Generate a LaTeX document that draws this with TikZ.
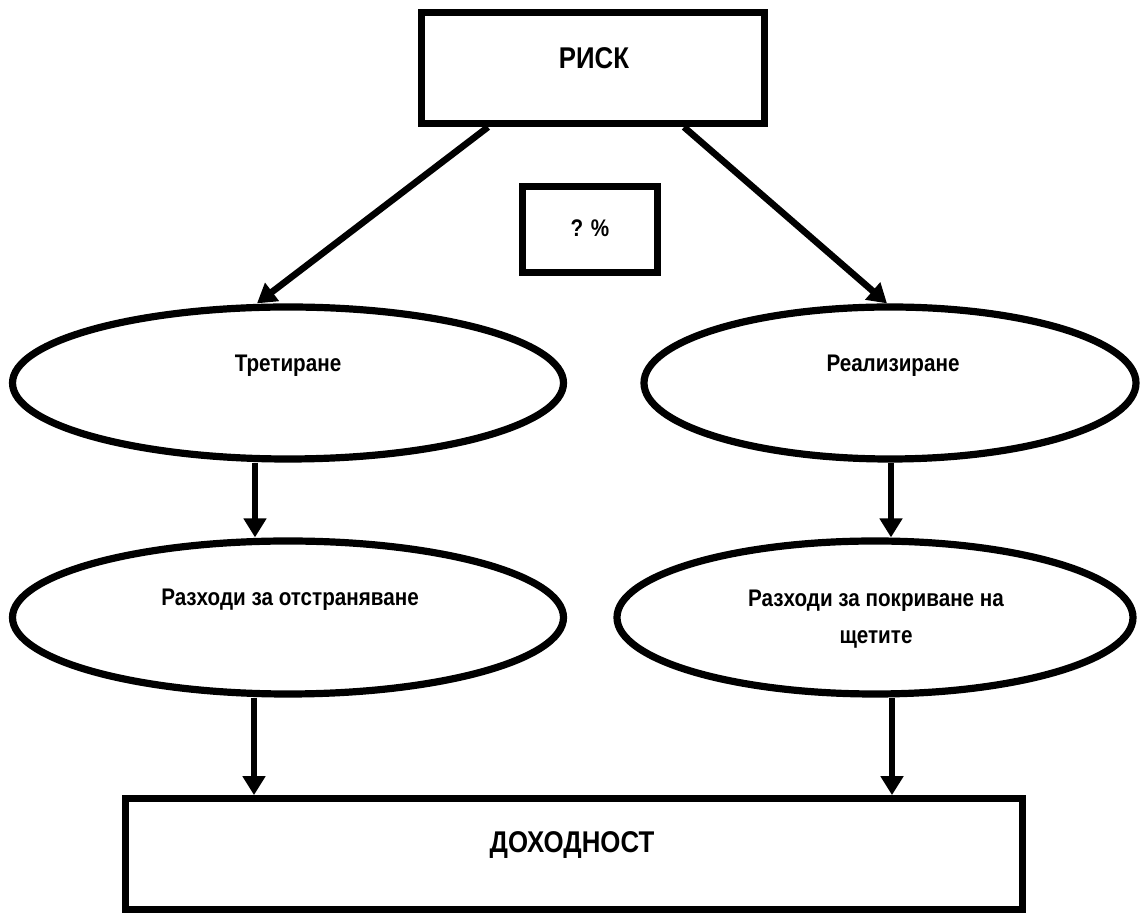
\documentclass[tikz,border=0pt]{standalone}
\usepackage{fontspec}
\newfontfamily\lab{Liberation Sans}[FakeStretch=0.86]
\usetikzlibrary{arrows.meta,shapes.geometric}
\tikzset{
  shp/.style={draw=black, line width=3.6pt, fill=white, inner sep=0pt},
  boxnode/.style={shp, rectangle},
  ellnode/.style={shp, ellipse},
  txt/.style={font=\lab\bfseries\fontsize{12}{18.5}\selectfont, align=center, anchor=base, inner sep=0pt},
  bigtxt/.style={txt, font=\lab\bfseries\fontsize{15}{17}\selectfont},
  arr/.style={draw=black, line width=3.3pt, -{Triangle[length=9.5pt,width=11pt]}}
}
\begin{document}
\begin{tikzpicture}[x=0.5pt,y=-0.5pt]
\useasboundingbox (0,0) rectangle (1142,913);
\node[boxnode, minimum width=171.5pt, minimum height=55.5pt,
  label={[bigtxt, yshift=5pt, xshift=0.5pt]center:РИСК}] (risk) at (593,68) {};
\node[boxnode, minimum width=67.5pt, minimum height=43pt,
  label={[txt, yshift=0.75pt]center:? \%}] (q) at (590,229.5) {};
\node[ellnode, minimum width=275.5pt, minimum height=76pt,
  label={[txt, yshift=8.5pt]center:Третиране}] (e1) at (288,383) {};
\node[ellnode, minimum width=246pt, minimum height=76pt,
  label={[txt, yshift=8.5pt, xshift=1.5pt]center:Реализиране}] (e2) at (890,383) {};
\node[ellnode, minimum width=275.5pt, minimum height=76.5pt,
  label={[txt, yshift=8.75pt, xshift=1pt]center:Разходи за отстраняване}] (e3) at (288,617.5) {};
\node[ellnode, minimum width=258pt, minimum height=76.5pt,
  label={[txt, yshift=-1pt, xshift=0.5pt]center:Разходи за покриване на\\щетите}] (e4) at (875,617.5) {};
\node[boxnode, minimum width=448.25pt, minimum height=55.25pt,
  label={[bigtxt, yshift=4.5pt, xshift=-1pt]center:ДОХОДНОСТ}] (d) at (574,854) {};
\draw[arr] ([xshift=-52.5pt]risk.south) -- ([xshift=-15.5pt]e1.north);
\draw[arr] ([xshift=45.5pt]risk.south) -- ([xshift=-1.5pt]e2.north);
\draw[arr] ([xshift=-16.5pt]e1.south) -- ([xshift=-16.5pt]e3.north);
\draw[arr] ([xshift=0.5pt]e2.south) -- ([xshift=8pt]e4.north);
\draw[arr] ([xshift=-17pt]e3.south) -- ([xshift=-160pt]d.north);
\draw[arr] ([xshift=8.5pt]e4.south) -- ([xshift=159pt]d.north);
\end{tikzpicture}
\end{document}
